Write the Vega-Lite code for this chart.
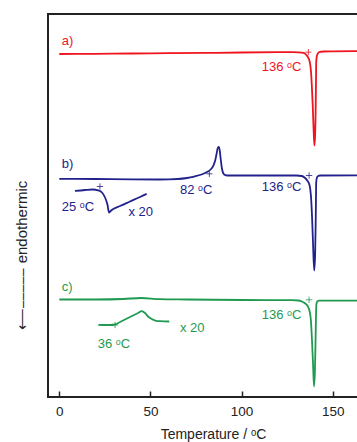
{
  "$schema": "https://vega.github.io/schema/vega-lite/v6.json",
  "width": 330,
  "height": 383,
  "autosize": {"type": "none"},
  "padding": {"left": 48, "top": 14, "right": 0, "bottom": 45},
  "background": "white",
  "config": {
    "view": {"stroke": "#222222", "strokeWidth": 2},
    "font": "Liberation Sans"
  },
  "datasets": {
    "curves": [
      {"series": "a", "part": "a", "T": 0, "y": 89.56}, {"series": "a", "part": "a", "T": 20, "y": 89.61}, {"series": "a", "part": "a", "T": 40, "y": 89.69}, {"series": "a", "part": "a", "T": 60, "y": 89.76}, {"series": "a", "part": "a", "T": 80, "y": 89.84}, {"series": "a", "part": "a", "T": 100, "y": 89.95}, {"series": "a", "part": "a", "T": 120, "y": 90.03}, {"series": "a", "part": "a", "T": 128, "y": 90.05}, {"series": "a", "part": "a", "T": 131, "y": 90.0}, {"series": "a", "part": "a", "T": 134, "y": 89.82}, {"series": "a", "part": "a", "T": 135.5, "y": 89.3}, {"series": "a", "part": "a", "T": 136.5, "y": 88.64}, {"series": "a", "part": "a", "T": 137.3, "y": 87.6}, {"series": "a", "part": "a", "T": 138, "y": 85.25}, {"series": "a", "part": "a", "T": 138.5, "y": 81.33}, {"series": "a", "part": "a", "T": 139, "y": 76.11}, {"series": "a", "part": "a", "T": 139.5, "y": 69.58}, {"series": "a", "part": "a", "T": 139.9, "y": 65.67}, {"series": "a", "part": "a", "T": 140.3, "y": 68.28}, {"series": "a", "part": "a", "T": 140.6, "y": 74.8}, {"series": "a", "part": "a", "T": 140.8, "y": 82.64}, {"series": "a", "part": "a", "T": 140.9, "y": 87.34}, {"series": "a", "part": "a", "T": 141.2, "y": 88.9}, {"series": "a", "part": "a", "T": 141.8, "y": 89.69}, {"series": "a", "part": "a", "T": 142.8, "y": 90.08}, {"series": "a", "part": "a", "T": 145, "y": 90.21}, {"series": "a", "part": "a", "T": 150, "y": 90.26}, {"series": "a", "part": "a", "T": 170, "y": 90.34},
      {"series": "b", "part": "b", "T": 0, "y": 56.97}, {"series": "b", "part": "b", "T": 20, "y": 56.92}, {"series": "b", "part": "b", "T": 40, "y": 56.81}, {"series": "b", "part": "b", "T": 55, "y": 56.79}, {"series": "b", "part": "b", "T": 65, "y": 56.92}, {"series": "b", "part": "b", "T": 70, "y": 57.18}, {"series": "b", "part": "b", "T": 74, "y": 57.57}, {"series": "b", "part": "b", "T": 78, "y": 58.09}, {"series": "b", "part": "b", "T": 81, "y": 58.75}, {"series": "b", "part": "b", "T": 83, "y": 59.4}, {"series": "b", "part": "b", "T": 84.5, "y": 60.44}, {"series": "b", "part": "b", "T": 85.5, "y": 61.75}, {"series": "b", "part": "b", "T": 86.3, "y": 63.58}, {"series": "b", "part": "b", "T": 87, "y": 65.14}, {"series": "b", "part": "b", "T": 87.5, "y": 65.27}, {"series": "b", "part": "b", "T": 88, "y": 64.36}, {"series": "b", "part": "b", "T": 88.5, "y": 62.27}, {"series": "b", "part": "b", "T": 89.2, "y": 59.66}, {"series": "b", "part": "b", "T": 90, "y": 58.36}, {"series": "b", "part": "b", "T": 91, "y": 57.96}, {"series": "b", "part": "b", "T": 93, "y": 57.83}, {"series": "b", "part": "b", "T": 110, "y": 57.83}, {"series": "b", "part": "b", "T": 130, "y": 57.83}, {"series": "b", "part": "b", "T": 133, "y": 57.7}, {"series": "b", "part": "b", "T": 134.5, "y": 57.31}, {"series": "b", "part": "b", "T": 136, "y": 56.53}, {"series": "b", "part": "b", "T": 137.3, "y": 55.22}, {"series": "b", "part": "b", "T": 138, "y": 52.61}, {"series": "b", "part": "b", "T": 138.6, "y": 47.39}, {"series": "b", "part": "b", "T": 139.2, "y": 39.56}, {"series": "b", "part": "b", "T": 139.8, "y": 33.03}, {"series": "b", "part": "b", "T": 140.3, "y": 36.95}, {"series": "b", "part": "b", "T": 140.6, "y": 44.78}, {"series": "b", "part": "b", "T": 140.8, "y": 52.61}, {"series": "b", "part": "b", "T": 140.9, "y": 55.99}, {"series": "b", "part": "b", "T": 141.3, "y": 57.31}, {"series": "b", "part": "b", "T": 142, "y": 57.7}, {"series": "b", "part": "b", "T": 143, "y": 57.83}, {"series": "b", "part": "b", "T": 170, "y": 57.89},
      {"series": "c", "part": "c", "T": 0, "y": 25.46}, {"series": "c", "part": "c", "T": 20, "y": 25.46}, {"series": "c", "part": "c", "T": 35, "y": 25.59}, {"series": "c", "part": "c", "T": 45, "y": 25.85}, {"series": "c", "part": "c", "T": 55, "y": 25.54}, {"series": "c", "part": "c", "T": 70, "y": 25.46}, {"series": "c", "part": "c", "T": 100, "y": 25.33}, {"series": "c", "part": "c", "T": 128, "y": 25.27}, {"series": "c", "part": "c", "T": 131, "y": 25.2}, {"series": "c", "part": "c", "T": 133, "y": 24.93}, {"series": "c", "part": "c", "T": 134.5, "y": 24.54}, {"series": "c", "part": "c", "T": 136, "y": 23.89}, {"series": "c", "part": "c", "T": 137.2, "y": 22.58}, {"series": "c", "part": "c", "T": 138, "y": 19.97}, {"series": "c", "part": "c", "T": 138.6, "y": 14.75}, {"series": "c", "part": "c", "T": 139.2, "y": 8.22}, {"series": "c", "part": "c", "T": 139.7, "y": 2.74}, {"series": "c", "part": "c", "T": 140.2, "y": 6.92}, {"series": "c", "part": "c", "T": 140.5, "y": 13.45}, {"series": "c", "part": "c", "T": 140.8, "y": 21.25}, {"series": "c", "part": "c", "T": 141, "y": 24.15}, {"series": "c", "part": "c", "T": 141.5, "y": 24.93}, {"series": "c", "part": "c", "T": 142.5, "y": 25.14}, {"series": "c", "part": "c", "T": 170, "y": 25.2},
      {"series": "b", "part": "b20", "T": 8.6, "y": 53.79}, {"series": "b", "part": "b20", "T": 14.1, "y": 54.05}, {"series": "b", "part": "b20", "T": 18.5, "y": 54.18}, {"series": "b", "part": "b20", "T": 21.2, "y": 53.97}, {"series": "b", "part": "b20", "T": 23.4, "y": 53.39}, {"series": "b", "part": "b20", "T": 25.1, "y": 52.09}, {"series": "b", "part": "b20", "T": 26.4, "y": 50.26}, {"series": "b", "part": "b20", "T": 27.3, "y": 48.17}, {"series": "b", "part": "b20", "T": 28.4, "y": 48.69}, {"series": "b", "part": "b20", "T": 33.3, "y": 49.87}, {"series": "b", "part": "b20", "T": 38.8, "y": 51.04}, {"series": "b", "part": "b20", "T": 44.3, "y": 52.22}, {"series": "b", "part": "b20", "T": 47.9, "y": 53.05},
      {"series": "c", "part": "c20", "T": 21.4, "y": 18.85}, {"series": "c", "part": "c20", "T": 25.1, "y": 18.8}, {"series": "c", "part": "c20", "T": 27.8, "y": 18.8}, {"series": "c", "part": "c20", "T": 30.6, "y": 18.93}, {"series": "c", "part": "c20", "T": 33.3, "y": 19.58}, {"series": "c", "part": "c20", "T": 38.8, "y": 20.89}, {"series": "c", "part": "c20", "T": 43.2, "y": 21.93}, {"series": "c", "part": "c20", "T": 45.2, "y": 22.4}, {"series": "c", "part": "c20", "T": 47.0, "y": 21.93}, {"series": "c", "part": "c20", "T": 48.7, "y": 21.02}, {"series": "c", "part": "c20", "T": 50.7, "y": 20.37}, {"series": "c", "part": "c20", "T": 53.1, "y": 19.9}, {"series": "c", "part": "c20", "T": 55.3, "y": 19.79}, {"series": "c", "part": "c20", "T": 60.3, "y": 19.71}
    ],
    "onsets": [
      {"series": "a", "T": 136.6, "y": 90.03},
      {"series": "b", "T": 137, "y": 57.83},
      {"series": "c", "T": 137, "y": 25.38},
      {"series": "b", "T": 82.3, "y": 58.28},
      {"series": "b", "T": 22.3, "y": 54.96},
      {"series": "c", "T": 30.6, "y": 18.8}
    ],
    "labels": [
      {"series": "a", "T": 1.3, "y": 93.08, "label": "a)"},
      {"series": "b", "T": 1.3, "y": 60.89, "label": "b)"},
      {"series": "c", "T": 1.3, "y": 28.67, "label": "c)"},
      {"series": "a", "T": 111.0, "y": 86.11, "label": "136 ᵒC"},
      {"series": "b", "T": 111.0, "y": 54.78, "label": "136 ᵒC"},
      {"series": "c", "T": 111.0, "y": 21.46, "label": "136 ᵒC"},
      {"series": "b", "T": 66.2, "y": 53.92, "label": "82 ᵒC"},
      {"series": "b", "T": 1.3, "y": 49.56, "label": "25 ᵒC"},
      {"series": "b", "T": 37.9, "y": 48.25, "label": "x 20"},
      {"series": "c", "T": 21.1, "y": 13.89, "label": "36 ᵒC"},
      {"series": "c", "T": 66.2, "y": 17.96, "label": "x 20"}
    ]
  },
  "encoding": {
    "x": {
      "field": "T", "type": "quantitative",
      "scale": {"domain": [-6.2, 174.8], "nice": false, "zero": false},
      "axis": {
        "title": "Temperature / ᵒC",
        "values": [0, 50, 100, 150],
        "domain": false, "grid": false,
        "tickSize": -6, "tickColor": "#222222", "tickWidth": 1.5,
        "labelFont": "Liberation Sans", "labelFontSize": 13.5, "labelColor": "#222222",
        "labelPadding": 13,
        "titleFont": "Liberation Sans", "titleFontSize": 14, "titleFontWeight": "normal", "titleColor": "#222222",
        "titlePadding": 10
      }
    },
    "y": {
      "field": "y", "type": "quantitative",
      "scale": {"domain": [0, 100], "nice": false, "zero": false},
      "axis": {
        "title": "⟵⎯⎯⎯⎯⎯ endothermic",
        "domain": false, "ticks": false, "labels": false, "grid": false,
        "titleFont": "Liberation Sans", "titleFontSize": 15, "titleFontWeight": "normal", "titleColor": "#222222",
        "titleAngle": 270, "titleAlign": "left", "titleBaseline": "middle",
        "titleX": -27, "titleY": 315
      }
    },
    "color": {
      "field": "series", "type": "nominal",
      "scale": {"domain": ["a", "b", "c"], "range": ["#f0141e", "#22228c", "#1f9a50"]},
      "legend": null
    }
  },
  "layer": [
    {
      "data": {"name": "curves"},
      "mark": {"type": "line", "strokeWidth": 1.8, "interpolate": "monotone"},
      "encoding": {"detail": {"field": "part", "type": "nominal"}}
    },
    {
      "data": {"name": "onsets"},
      "mark": {"type": "point", "shape": "M-1,0H1M0,-1V1", "filled": false, "size": 40, "strokeWidth": 0.8, "opacity": 1}
    },
    {
      "data": {"name": "labels"},
      "mark": {"type": "text", "align": "left", "baseline": "middle", "font": "Liberation Sans", "fontSize": 13},
      "encoding": {"text": {"field": "label", "type": "nominal"}}
    }
  ]
}
